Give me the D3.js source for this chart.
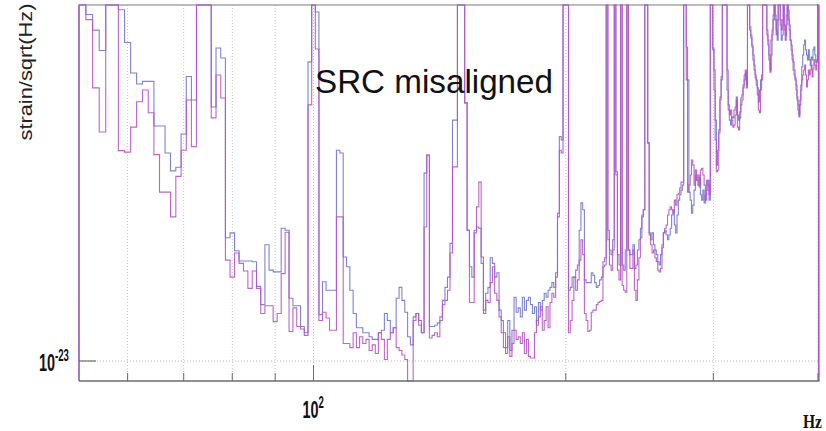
<!DOCTYPE html>
<html>
<head>
<meta charset="utf-8">
<script src="https://cdn.jsdelivr.net/npm/d3@7"></script>
<style>
  body { margin: 0; background: #fff; }
  svg { display: block; }
</style>
</head>
<body>
<div id="chart"></div>
<script>
// Strain spectrum, 1 Hz bins from 53 Hz to 400 Hz, values in units of 1e-23 strain/sqrt(Hz)
// (values above 10 are off the top of the frame, below 0.88 off the bottom)
const FIRST_BIN_HZ = 53;
const BIN_WIDTH_HZ = 1;

const BLUE_VALUES = [
  15, 9.4, 8.5, 7.45, 15, 15, 9.7, 7.85, 6.44, 6.0,
  6.1, 6.1, 4.57, 4.57, 3.84, 3.42, 3.5, 4.34, 6.3, 5.41,
  15, 15, 15, 5.17, 7.57, 7.1, 2.22, 2.29, 2.04, 1.91,
  1.91, 1.91, 1.9, 1.62, 1.44, 2.12, 1.8, 1.78, 1.78, 2.36,
  2.33, 1.5, 1.43, 1.43, 1.25, 1.2, 6.92, 15, 9.56, 1.35,
  1.67, 1.58, 1.58, 1.58, 3.91, 3.84, 1.96, 1.84, 1.58, 1.36,
  1.24, 1.24, 1.2, 1.2, 1.17, 1.15, 1.15, 1.2, 1.22, 1.36,
  1.3, 1.2, 1.24, 1.5, 1.61, 1.48, 1.37, 1.17, 1.11, 1.33,
  1.36, 1.3, 1.2, 3.37, 3.79, 1.25, 1.25, 1.26, 1.28, 1.3,
  1.48, 1.61, 1.72, 2.14, 4.75, 4.75, 15, 15, 15, 5.31,
  2.33, 1.84, 1.72, 2.33, 2.38, 2.36, 1.88, 1.39, 1.55, 1.61,
  1.95, 1.88, 1.72, 1.77, 1.39, 1.3, 1.2, 1.09, 1.3, 1.07,
  1.22, 1.51, 1.37, 1.41, 1.33, 1.51, 1.39, 1.48, 1.51, 1.44,
  1.36, 1.42, 1.26, 1.46, 1.39, 1.48, 1.55, 1.51, 1.58, 1.61,
  1.66, 1.61, 1.77, 2.6, 4.27, 4.18, 15, 15, 15, 1.58,
  1.61, 1.72, 1.72, 1.8, 1.86, 2.33, 2.78, 2.66, 1.69, 1.66,
  1.66, 1.66, 1.77, 1.74, 1.66, 1.61, 1.63, 1.69, 1.72, 1.84,
  1.86, 15, 2.33, 2.05, 1.99, 2.19, 15, 3.4, 1.99, 1.86,
  15, 1.86, 1.8, 2.05, 15, 2.05, 1.99, 1.99, 2.12, 1.82,
  1.86, 2.05, 2.19, 2.36, 2.57, 2.66, 15, 15, 4.1, 2.29,
  2.19, 2.29, 2.12, 2.05, 1.99, 1.9, 1.86, 1.99, 2.08, 2.29,
  2.33, 2.26, 2.19, 2.26, 2.36, 2.57, 2.66, 2.41, 2.29, 2.57,
  2.83, 2.93, 3.02, 3.12, 15, 15, 7.62, 6.16, 2.98, 2.83,
  2.6, 2.74, 3.02, 3.33, 3.22, 3.12, 3.27, 2.93, 2.83, 3.02,
  2.78, 2.93, 3.22, 3.12, 2.83, 15, 15, 7.48, 6.57, 4.75,
  3.55, 3.91, 4.46, 5.51, 6.16, 15, 15, 15, 15, 5.77,
  5.24, 4.75, 4.6, 4.85, 4.82, 5.07, 5.17, 5.51, 4.91, 4.75,
  5.01, 5.24, 5.41, 5.85, 6.16, 6.44, 5.96, 15, 15, 8.51,
  8.08, 7.72, 7.24, 6.78, 6.24, 5.96, 5.59, 5.34, 5.77, 6.16,
  6.36, 15, 15, 15, 15, 8.51, 7.72, 7.01, 6.57, 7.24,
  8.24, 9.08, 15, 9.08, 8.51, 7.97, 15, 15, 9.08, 7.97,
  8.24, 15, 8.79, 8.24, 8.79, 15, 9.08, 8.51, 7.97, 7.72,
  7.24, 6.92, 6.36, 6.16, 5.77, 5.41, 5.07, 4.85, 5.41, 5.96,
  6.7, 7.24, 7.72, 7.97, 7.48, 7.24, 7.01, 7.48, 7.01, 6.78,
  7.14, 7.01, 7.48, 7.62, 7.24, 6.92, 7.01, 15
];

const MAGENTA_VALUES = [
  15, 9.1, 5.85, 4.4, 15, 15, 3.9, 3.86, 4.54, 5.35,
  5.77, 4.98, 3.8, 2.98, 2.98, 2.54, 3.3, 3.91, 5.41, 4.0,
  15, 15, 15, 4.82, 6.36, 5.48, 1.92, 1.72, 2.01, 1.88,
  1.79, 1.6, 1.79, 1.6, 1.36, 1.43, 1.43, 1.29, 1.36, 1.76,
  2.3, 1.21, 1.41, 1.25, 1.23, 1.18, 5.24, 15, 7.52, 1.3,
  1.37, 1.32, 1.22, 1.22, 2.54, 2.54, 1.12, 1.12, 1.09, 1.2,
  1.09, 1.17, 1.12, 1.15, 1.07, 1.11, 1.05, 1.2, 1.15, 1.01,
  1.15, 1.2, 1.24, 1.09, 1.07, 1.04, 1.01, 0.85, 0.85, 1.3,
  1.36, 1.26, 1.2, 2.38, 3.79, 1.16, 1.18, 1.2, 1.17, 1.33,
  1.44, 1.48, 1.58, 2.01, 3.51, 3.51, 15, 15, 15, 5.31,
  2.33, 1.46, 1.46, 2.29, 2.71, 3.18, 1.96, 1.36, 1.48, 1.46,
  1.66, 1.84, 1.55, 1.48, 1.33, 1.2, 1.09, 1.05, 1.17, 1.03,
  1.12, 1.22, 1.15, 1.17, 1.12, 1.2, 1.05, 1.15, 1.03, 1.02,
  1.02, 1.2, 1.3, 1.33, 1.42, 1.22, 1.3, 1.42, 1.24, 1.46,
  1.55, 1.51, 1.72, 2.54, 3.91, 3.84, 15, 15, 15, 1.2,
  1.3, 1.48, 1.72, 1.58, 1.69, 1.92, 2.19, 1.99, 1.36, 1.3,
  1.21, 1.22, 1.37, 1.39, 1.39, 1.44, 1.46, 1.47, 1.48, 1.9,
  1.95, 15, 2.19, 1.86, 1.8, 2.05, 15, 3.33, 1.8, 1.69,
  15, 1.63, 1.58, 1.56, 15, 2.05, 1.82, 1.82, 2.05, 1.58,
  1.48, 1.69, 1.95, 2.22, 2.54, 2.66, 15, 15, 4.1, 2.26,
  2.12, 2.01, 2.05, 1.95, 1.9, 1.8, 1.78, 1.82, 2.12, 2.29,
  2.36, 2.41, 2.57, 2.66, 2.71, 2.66, 2.6, 2.83, 2.74, 2.93,
  2.96, 3.06, 3.18, 3.18, 15, 15, 6.16, 2.98, 3.12, 3.33,
  3.67, 3.55, 3.12, 3.44, 3.22, 3.33, 3.08, 3.44, 3.48, 3.33,
  3.12, 2.83, 3.02, 3.22, 2.93, 15, 15, 7.57, 5.77, 4.18,
  3.4, 3.44, 4.37, 5.41, 6.28, 15, 15, 15, 15, 6.57,
  5.07, 4.91, 5.07, 4.75, 4.54, 4.6, 4.91, 5.41, 4.54, 4.46,
  4.82, 5.48, 5.59, 5.96, 6.36, 6.57, 5.85, 15, 15, 8.68,
  8.24, 7.62, 7.01, 6.57, 6.36, 6.16, 5.85, 5.07, 4.98, 5.77,
  6.16, 15, 15, 15, 15, 8.24, 7.97, 7.24, 6.48, 7.97,
  8.51, 9.37, 15, 9.37, 8.24, 9.08, 15, 15, 8.79, 8.51,
  9.08, 15, 8.51, 7.97, 9.37, 15, 9.68, 8.79, 7.97, 7.48,
  7.01, 6.57, 6.57, 6.24, 5.96, 5.51, 5.24, 4.91, 5.24, 5.77,
  6.16, 6.36, 6.57, 6.78, 6.36, 5.89, 6.16, 6.57, 6.36, 6.57,
  6.78, 6.28, 6.61, 7.01, 6.78, 6.57, 6.92, 15
];

// axis stuff
const X_TICKS = [60, 70, 80, 90, 100, 200, 300, 400];
const X_MAJOR = [100];
const Y_MAJOR = [1];
const TITLE = "SRC misaligned";
const Y_TITLE = "strain/sqrt(Hz)";
const X_TITLE = "Hz";

const WIDTH = 826;
const HEIGHT = 431;
const LEFT = 79, RIGHT = 818.5, TOP = 5, BOTTOM = 381;

const BLUE = "#7f84d0";
const MAGENTA = "#b953c4";
const AXIS_COLOR = "#6b6b6b";

const X_MIN_HZ = FIRST_BIN_HZ - BIN_WIDTH_HZ / 2;
const X_MAX_HZ = FIRST_BIN_HZ - BIN_WIDTH_HZ / 2 + BLUE_VALUES.length * BIN_WIDTH_HZ;
const Y_MIN = 0.8786, Y_MAX = 10;

const X = d3.scaleLog().domain([X_MIN_HZ, X_MAX_HZ]).range([LEFT, RIGHT]);
const Y = d3.scaleLog().domain([Y_MIN, Y_MAX]).range([BOTTOM, TOP]).clamp(true);

const SVG = d3.select("#chart").append("svg")
  .attr("width", WIDTH)
  .attr("height", HEIGHT)
  .style("font-family", "'Liberation Sans', Arial, sans-serif");

SVG.append("defs").append("clipPath")
  .attr("id", "plot-clip")
  .append("rect")
  .attr("x", LEFT - 1).attr("y", TOP - 1)
  .attr("width", RIGHT - LEFT + 2).attr("height", BOTTOM - TOP + 2);

// GRID (dotted)
SVG.append("g").selectAll("line")
  .data(X_TICKS)
  .enter().append("line")
  .attr("x1", d => X(d)).attr("x2", d => X(d))
  .attr("y1", TOP).attr("y2", BOTTOM)
  .attr("stroke", "#c4c4c4")
  .attr("stroke-dasharray", "1,2");

SVG.append("g").selectAll("line")
  .data(Y_MAJOR)
  .enter().append("line")
  .attr("x1", LEFT).attr("x2", RIGHT)
  .attr("y1", d => Y(d)).attr("y2", d => Y(d))
  .attr("stroke", "#b8b8b8")
  .attr("stroke-dasharray", "1,2");

// FRAME
SVG.append("line")
  .attr("x1", LEFT).attr("x2", RIGHT + 1).attr("y1", TOP).attr("y2", TOP)
  .attr("stroke", "#7a7a7a").attr("stroke-width", 1.2);
SVG.append("line")
  .attr("x1", RIGHT + 1).attr("x2", RIGHT + 1).attr("y1", TOP).attr("y2", BOTTOM)
  .attr("stroke", "#b0b0b0");
SVG.append("line")
  .attr("x1", LEFT).attr("x2", LEFT).attr("y1", TOP).attr("y2", BOTTOM)
  .attr("stroke", AXIS_COLOR);

// HISTOGRAMS
function histPoints(values) {
  // outline starting and ending on the x axis, like a ROOT "hist" draw
  let pts = [[X_MIN_HZ, Y_MIN]];
  values.forEach((v, i) => pts.push([X_MIN_HZ + i * BIN_WIDTH_HZ, v]));
  pts.push([X_MAX_HZ, values[values.length - 1]]);
  pts.push([X_MAX_HZ, Y_MIN]);
  return pts;
}

const HIST_LINE = d3.line()
  .x(d => X(d[0]))
  .y(d => Y(d[1]))
  .curve(d3.curveStepAfter);

const PLOT = SVG.append("g").attr("clip-path", "url(#plot-clip)");

PLOT.append("path")
  .attr("d", HIST_LINE(histPoints(BLUE_VALUES)))
  .attr("fill", "none")
  .attr("stroke", BLUE)
  .attr("stroke-width", 1.1);

PLOT.append("path")
  .attr("d", HIST_LINE(histPoints(MAGENTA_VALUES)))
  .attr("fill", "none")
  .attr("stroke", MAGENTA)
  .attr("stroke-width", 1.1)
  .attr("stroke-opacity", 0.9);

// X AXIS
SVG.append("line")
  .attr("x1", LEFT).attr("x2", RIGHT + 1).attr("y1", BOTTOM).attr("y2", BOTTOM)
  .attr("stroke", AXIS_COLOR).attr("stroke-width", 1.5);

SVG.append("g").selectAll("line")
  .data(X_TICKS)
  .enter().append("line")
  .attr("x1", d => X(d)).attr("x2", d => X(d))
  .attr("y1", BOTTOM)
  .attr("y2", d => X_MAJOR.includes(d) ? BOTTOM - 16 : BOTTOM - 8)
  .attr("stroke", AXIS_COLOR);

// Y AXIS ticks
SVG.append("g").selectAll("line")
  .data(Y_MAJOR)
  .enter().append("line")
  .attr("x1", LEFT).attr("x2", LEFT + 17)
  .attr("y1", d => Y(d)).attr("y2", d => Y(d))
  .attr("stroke", AXIS_COLOR).attr("stroke-width", 1.2);

// TICK LABELS (power of ten, one text with a raised tspan, squeezed like the root font)
function powerLabel(x, y, exponent) {
  let t = SVG.append("text")
    .attr("transform", "translate(" + x + "," + y + ") scale(0.6,1)")
    .attr("fill", "#111")
    .attr("font-weight", "bold")
    .attr("font-size", 24);
  t.append("tspan").text("10");
  t.append("tspan")
    .attr("dy", -10)
    .attr("font-size", 16)
    .text(exponent);
}

X_MAJOR.forEach(d => powerLabel(X(d) - 11, 418, String(Math.round(Math.log10(d)))));
Y_MAJOR.forEach(d => powerLabel(39, Y(d) + 10, "-23"));

// TITLES
SVG.append("text")
  .attr("x", 315).attr("y", 93)
  .attr("font-size", 33.5)
  .attr("fill", "#111")
  .attr("textLength", 238)
  .attr("lengthAdjust", "spacingAndGlyphs")
  .text(TITLE);

SVG.append("text")
  .attr("transform", "translate(32,72) rotate(-90)")
  .attr("text-anchor", "middle")
  .attr("font-size", 17.5)
  .attr("fill", "#222")
  .attr("textLength", 137)
  .attr("lengthAdjust", "spacingAndGlyphs")
  .text(Y_TITLE);

SVG.append("text")
  .attr("x", 803).attr("y", 428)
  .attr("font-size", 18)
  .attr("font-weight", "bold")
  .attr("font-family", "'Liberation Serif', 'Times New Roman', serif")
  .attr("fill", "#111")
  .attr("textLength", 19)
  .attr("lengthAdjust", "spacingAndGlyphs")
  .text(X_TITLE);
</script>
</body>
</html>
